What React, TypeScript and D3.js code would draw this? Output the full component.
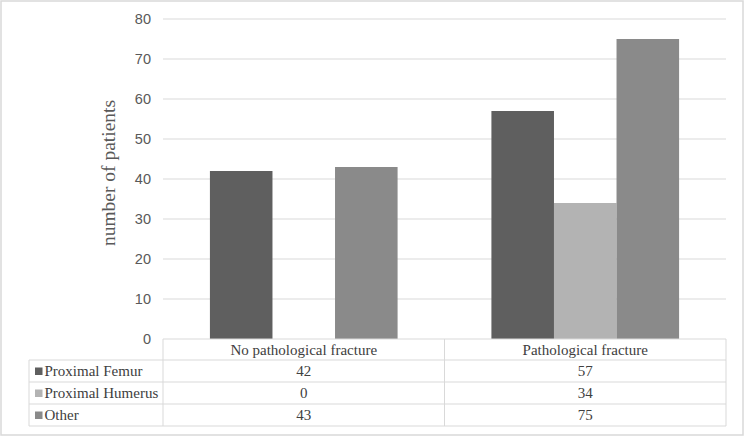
import React from "react";
import * as d3 from "d3";

const categories = ["No pathological fracture", "Pathological fracture"];
const seriesNames = ["Proximal Femur", "Proximal Humerus", "Other"];
const femur = [42, 57];
const humerus = [0, 34];
const other = [43, 75];
const yTicks = [0, 10, 20, 30, 40, 50, 60, 70, 80];
const colors = ["#5f5f5f", "#b3b3b3", "#8a8a8a"];

const W = 751;
const H = 440;

export default function App() {
  const values = [femur, humerus, other];
  const left = 163;
  const right = 726;
  const top = 19;
  const bottom = 339;
  const y = d3.scaleLinear().domain([0, 80]).range([bottom, top]);
  const x = d3.scaleBand<string>().domain(categories).range([left, right]).padding(0);
  const xs = d3
    .scaleBand<string>()
    .domain(seriesNames)
    .range([0, x.bandwidth()])
    .paddingInner(0)
    .paddingOuter(0.75);

  const rowEdges = [339, 360, 382, 404, 426];
  const legendLeft = 29;
  const grid = "#d9d9d9";
  const serif = "'Liberation Serif', 'Times New Roman', serif";
  const sans = "'Liberation Sans', Arial, sans-serif";

  return (
    <svg
      width={W}
      height={H}
      style={{ position: "absolute", left: 0, top: 0, background: "#fff" }}
    >
      <rect x={1} y={1} width={742} height={434} fill="#fff" stroke="#d9d9d9" strokeWidth={1.5} />
      {yTicks.map((t) => (
        <g key={t}>
          {t > 0 && (
            <line x1={left} x2={right} y1={y(t)} y2={y(t)} stroke={grid} strokeWidth={1} />
          )}
          <text
            x={151}
            y={y(t)}
            dy="0.35em"
            textAnchor="end"
            fontFamily={sans}
            fontSize={14.5}
            fill="#595959"
          >
            {t}
          </text>
        </g>
      ))}
      <text
        transform={`translate(115,${(top + bottom) / 2 - 6}) rotate(-90)`}
        textAnchor="middle"
        fontFamily={serif}
        fontSize={19.5}
        fill="#595959"
      >
        number of patients
      </text>
      {categories.map((c, ci) => (
        <g key={c} transform={`translate(${x(c)},0)`}>
          {seriesNames.map((s, si) => {
            const v = values[si][ci];
            return (
              <rect
                key={s}
                x={xs(s)}
                y={y(v)}
                width={xs.bandwidth()}
                height={bottom - y(v)}
                fill={colors[si]}
              />
            );
          })}
        </g>
      ))}
      {/* table */}
      <g stroke={grid} strokeWidth={1} fill="none">
        <line x1={left} x2={right} y1={rowEdges[0]} y2={rowEdges[0]} />
        {rowEdges.slice(1).map((r) => (
          <line key={r} x1={legendLeft} x2={right} y1={r} y2={r} />
        ))}
        <line x1={legendLeft} x2={legendLeft} y1={rowEdges[1]} y2={rowEdges[4]} />
        <line x1={left} x2={left} y1={rowEdges[0]} y2={rowEdges[4]} />
        <line x1={x(categories[1])} x2={x(categories[1])} y1={rowEdges[0]} y2={rowEdges[4]} />
        <line x1={right} x2={right} y1={rowEdges[0]} y2={rowEdges[4]} />
      </g>
      {categories.map((c) => (
        <text
          key={c}
          x={(x(c) as number) + x.bandwidth() / 2}
          y={(rowEdges[0] + rowEdges[1]) / 2}
          dy="0.35em"
          textAnchor="middle"
          fontFamily={serif}
          fontSize={15}
          fill="#404040"
        >
          {c}
        </text>
      ))}
      {seriesNames.map((s, si) => {
        const cy = (rowEdges[si + 1] + rowEdges[si + 2]) / 2;
        return (
          <g key={s}>
            <rect x={35} y={cy - 3.5} width={7.5} height={7.5} fill={colors[si]} />
            <text
              x={44.5}
              y={cy}
              dy="0.35em"
              fontFamily={serif}
              fontSize={15}
              fill="#404040"
            >
              {s}
            </text>
            {categories.map((c, ci) => (
              <text
                key={c}
                x={(x(c) as number) + x.bandwidth() / 2}
                y={cy}
                dy="0.35em"
                textAnchor="middle"
                fontFamily={serif}
                fontSize={15}
                fill="#404040"
              >
                {values[si][ci]}
              </text>
            ))}
          </g>
        );
      })}
    </svg>
  );
}
